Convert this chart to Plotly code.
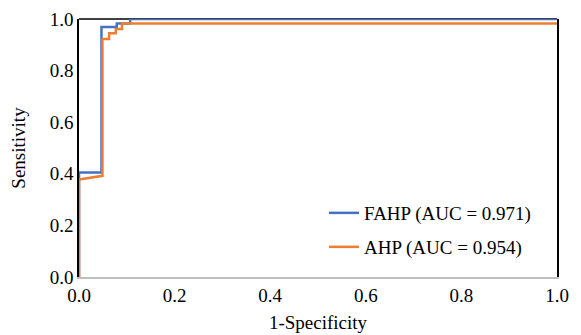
import plotly.graph_objects as go

fahp_x = [0, 0, 0.047, 0.047, 0.079, 0.079, 0.107, 0.107, 1.0]
fahp_y = [0, 0.405, 0.405, 0.969, 0.969, 0.983, 0.983, 1.0, 1.0]
ahp_x = [0, 0, 0.049, 0.049, 0.063, 0.063, 0.077, 0.077, 0.09, 0.09, 1.0]
ahp_y = [0, 0.378, 0.392, 0.922, 0.922, 0.945, 0.945, 0.961, 0.961, 0.983, 0.983]
names = ["FAHP (AUC = 0.971)", "AHP (AUC = 0.954)"]
ticks = [0, 0.2, 0.4, 0.6, 0.8, 1.0]
tick_text = ["0.0", "0.2", "0.4", "0.6", "0.8", "1.0"]

font = "Liberation Serif"
tfont = dict(family=font, size=19, color="black")
fig = go.Figure()
fig.add_trace(go.Scatter(x=fahp_x, y=fahp_y, mode="lines", name=names[0], legend="legend",
                         line=dict(color="#4472C4", width=2.5), cliponaxis=False))
fig.add_trace(go.Scatter(x=ahp_x, y=ahp_y, mode="lines", name=names[1], legend="legend2",
                         line=dict(color="#ED7D31", width=2.5), cliponaxis=False))

fig.add_shape(type="line", xref="paper", yref="paper", x0=0, x1=1, y0=1, y1=1,
              line=dict(color="black", width=1.5), layer="below")

leg_common = dict(xanchor="left", yanchor="middle", font=tfont,
                  bgcolor="rgba(0,0,0,0)", itemwidth=30)

fig.update_layout(
    width=573, height=327,
    margin=dict(l=71, r=24, t=11, b=58),
    plot_bgcolor="white", paper_bgcolor="white",
    font=tfont,
    showlegend=True,
    legend=dict(x=0.5125, y=(277 - 213) / 258, **leg_common),
    legend2=dict(x=0.5125, y=(277 - 247) / 258, **leg_common),
    xaxis=dict(range=[0, 1], tickvals=ticks, ticktext=tick_text, showgrid=False,
               zeroline=False, showline=True, linecolor="#BFBFBF", linewidth=1.5,
               ticks="", tickfont=tfont, automargin=False,
               title=dict(text="1-Specificity", standoff=11, font=tfont)),
    yaxis=dict(range=[0, 1], tickvals=ticks, ticktext=tick_text, showgrid=False,
               zeroline=False, showline=True, linecolor="black", linewidth=1.5,
               mirror=True, ticks="", tickfont=tfont, automargin=False,
               title=dict(text="Sensitivity", standoff=20, font=tfont)),
)
fig.write_html("out.html")
